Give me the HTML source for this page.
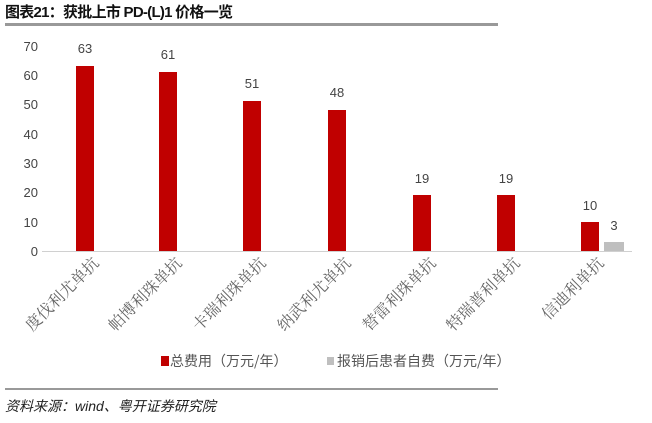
<!DOCTYPE html>
<html><head><meta charset="utf-8"><style>
body{margin:0;width:652px;height:418px;background:#fff;overflow:hidden;font-family:"Liberation Sans","Noto Sans CJK SC",sans-serif}
</style></head><body>
<svg width="652" height="418" xmlns="http://www.w3.org/2000/svg">
<text x="5" y="17" font-size="15" font-weight="bold" fill="#111" font-family="Liberation Sans,Noto Sans CJK SC,sans-serif" textLength="228">图表21：获批上市 PD-(L)1 价格一览</text>
<rect x="5" y="23" width="493" height="3" fill="#999"/>
<g font-size="13" fill="#444" text-anchor="end" font-family="Liberation Sans,Noto Sans CJK SC,sans-serif">
<text x="38" y="51">70</text><text x="38" y="80">60</text><text x="38" y="109">50</text><text x="38" y="139">40</text><text x="38" y="168">30</text><text x="38" y="197">20</text><text x="38" y="227">10</text><text x="38" y="256">0</text>
</g>
<line x1="42" y1="251.5" x2="632" y2="251.5" stroke="#d0d0d0" stroke-width="1"/>
<g fill="#c00000">
<rect x="76" y="66" width="18" height="185"/>
<rect x="159" y="72" width="18" height="179"/>
<rect x="243" y="101" width="18" height="150"/>
<rect x="328" y="110" width="18" height="141"/>
<rect x="413" y="195" width="18" height="56"/>
<rect x="497" y="195" width="18" height="56"/>
<rect x="581" y="222" width="18" height="29"/>
</g>
<rect x="604" y="242" width="20" height="9" fill="#bfbfbf"/>
<g font-size="13" fill="#444" text-anchor="middle">
<text x="85" y="53">63</text><text x="168" y="59">61</text><text x="252" y="88">51</text><text x="337" y="97">48</text><text x="422" y="183">19</text><text x="506" y="183">19</text><text x="590" y="210">10</text><text x="614" y="230">3</text>
</g>
<g font-size="16" fill="#666" text-anchor="end" font-family="Noto Serif CJK SC,serif">
<text transform="translate(100,264) rotate(-45)">度伐利尤单抗</text>
<text transform="translate(183,264) rotate(-45)">帕博利珠单抗</text>
<text transform="translate(267,264) rotate(-45)">卡瑞利珠单抗</text>
<text transform="translate(352,264) rotate(-45)">纳武利尤单抗</text>
<text transform="translate(437,264) rotate(-45)">替雷利珠单抗</text>
<text transform="translate(521,264) rotate(-45)">特瑞普利单抗</text>
<text transform="translate(605,264) rotate(-45)">信迪利单抗</text>
</g>
<rect x="161" y="356" width="8" height="10" fill="#c00000"/>
<text x="170" y="366" font-size="14" fill="#555" font-family="Noto Sans CJK SC,sans-serif">总费用（万元/年）</text>
<rect x="327" y="357" width="7" height="8" fill="#bfbfbf"/>
<text x="337" y="366" font-size="14" fill="#555" font-family="Noto Sans CJK SC,sans-serif">报销后患者自费（万元/年）</text>
<rect x="5" y="388" width="493" height="2" fill="#999"/>
<text x="5" y="411" font-size="14" font-style="italic" fill="#222" font-family="Liberation Sans,Noto Sans CJK SC,sans-serif">资料来源：wind、粤开证券研究院</text>
</svg>
</body></html>
